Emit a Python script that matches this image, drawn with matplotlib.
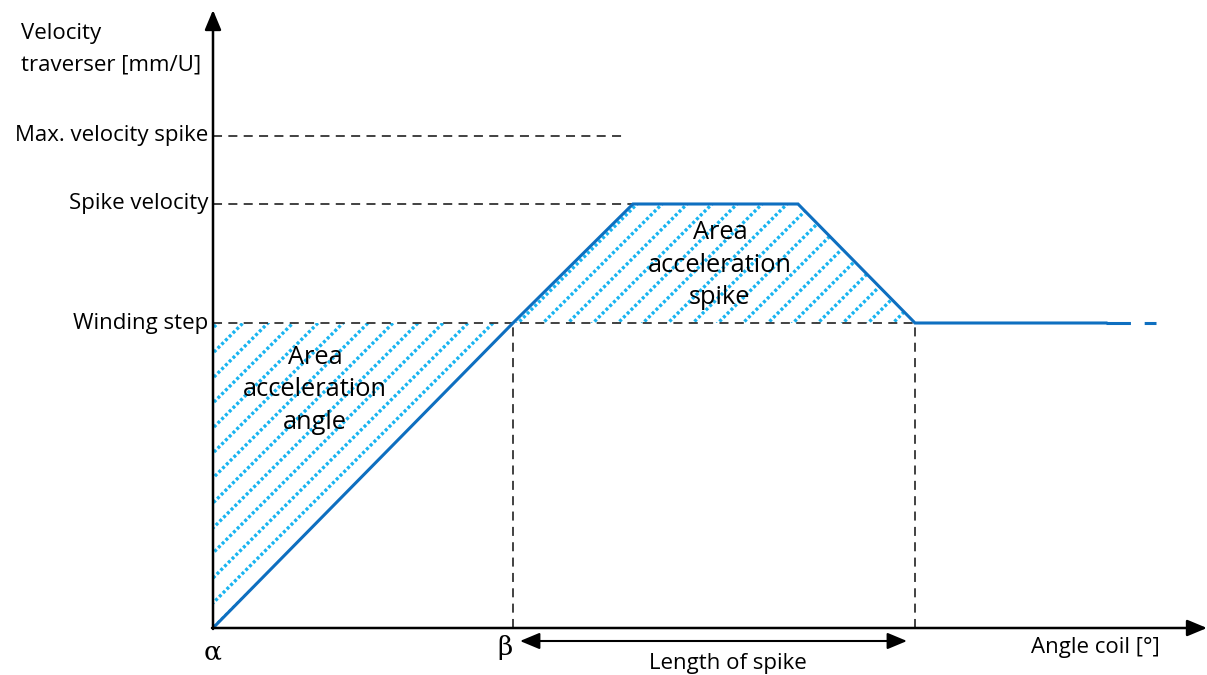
import numpy as np
import matplotlib
matplotlib.use("Agg")
import matplotlib.pyplot as plt
from matplotlib.patches import Polygon

plt.rcParams['font.family'] = ['Open Sans', 'DejaVu Sans']

# schematic values (angle units, velocity units)
angle_alpha = 0
angle_beta = 300
angle_spike_top_start = 420
angle_spike_top_end = 585
angle_spike_end = 702
angle_solid_end = 893
angle_dashed_end = 943
angle_axis_end = 994

v_winding_step = 305
v_spike = 424
v_max_spike = 492
v_axis_top = 618
v_max_line_end = 412

level_labels = ["Winding step", "Spike velocity", "Max. velocity spike"]
level_values = [v_winding_step, v_spike, v_max_spike]

profile_x = [angle_alpha, angle_beta, angle_spike_top_start, angle_spike_top_end,
             angle_spike_end, angle_solid_end]
profile_y = [0, v_winding_step, v_spike, v_spike, v_winding_step, v_winding_step]

BLUE = '#0E6FC0'
HATCH = '#19B4F0'
DARK = '#333333'
FS = 16
FS_AREA = 18.3

fig = plt.figure(figsize=(12.07, 6.75), dpi=100)
ax = fig.add_axes([0, 0, 1, 1])
ax.set_xlim(-213, 994)
ax.set_ylim(-47, 628)
ax.axis('off')


def hatch_region(verts):
    poly = Polygon(verts, closed=True, facecolor='none', edgecolor='none')
    ax.add_patch(poly)
    for c in np.arange(-1000, 1000, 25):
        xs = np.array([-300, 1100])
        ln, = ax.plot(xs, xs + c, color=HATCH, lw=2.4,
                      linestyle=(0, (0.9, 0.7)), zorder=2)
        ln.set_clip_path(poly)


hatch_region([(angle_alpha, 0), (angle_alpha, v_winding_step), (angle_beta, v_winding_step)])
hatch_region([(angle_beta, v_winding_step), (angle_spike_top_start, v_spike),
              (angle_spike_top_end, v_spike), (angle_spike_end, v_winding_step)])

dash = (0, (5, 3.5))
ax.plot([angle_alpha, v_max_line_end], [v_max_spike] * 2, color=DARK, lw=1.3, linestyle=dash, zorder=3)
ax.plot([angle_alpha, angle_spike_top_start], [v_spike] * 2, color=DARK, lw=1.3, linestyle=dash, zorder=3)
ax.plot([angle_alpha, angle_spike_end], [v_winding_step] * 2, color=DARK, lw=1.3, linestyle=dash, zorder=3)
ax.plot([angle_beta] * 2, [0, v_winding_step], color=DARK, lw=1.3, linestyle=dash, zorder=3)
ax.plot([angle_spike_end] * 2, [0, v_winding_step], color=DARK, lw=1.3, linestyle=dash, zorder=3)

# velocity profile
ax.plot(profile_x, profile_y, color=BLUE, lw=2.2, zorder=4, solid_joinstyle='miter')
ax.plot([angle_solid_end, angle_dashed_end], [v_winding_step] * 2, color=BLUE, lw=2.2,
        linestyle=(0, (8, 4.5)), zorder=4)

# axes with arrows
ax.annotate('', xy=(angle_axis_end, 0), xytext=(angle_alpha - 1, 0),
            arrowprops=dict(arrowstyle='-|>,head_length=1.2,head_width=0.5', color='black',
                            lw=1.8, shrinkA=0, shrinkB=0), zorder=5)
ax.annotate('', xy=(angle_alpha, v_axis_top), xytext=(angle_alpha, -1),
            arrowprops=dict(arrowstyle='-|>,head_length=1.2,head_width=0.5', color='black',
                            lw=1.8, shrinkA=0, shrinkB=0), zorder=5)

# length of spike arrow
ax.annotate('', xy=(angle_beta + 7, -13), xytext=(angle_spike_end - 8, -13),
            arrowprops=dict(arrowstyle='<|-|>,head_length=1.2,head_width=0.5', color='black',
                            lw=1.5, shrinkA=0, shrinkB=0))
ax.text((angle_beta + angle_spike_end) / 2 + 14, -36, 'Length of spike', ha='center', va='center',
        fontsize=FS)

for lab, val in zip(level_labels, level_values):
    ax.text(-5, val, lab, ha='right', va='center', fontsize=FS)

ax.text(-192, 595, 'Velocity', ha='left', va='center', fontsize=FS)
ax.text(-192, 563, 'traverser [mm/U]', ha='left', va='center', fontsize=FS)

ax.text(102, 238, 'Area\nacceleration\nangle', ha='center', va='center', fontsize=FS_AREA,
        linespacing=1.42, zorder=6)
ax.text(507, 363, 'Area\nacceleration\nspike', ha='center', va='center', fontsize=FS_AREA,
        linespacing=1.42, zorder=6)

ax.text(angle_alpha, -24, 'α', ha='center', va='center', fontsize=19, family='DejaVu Serif')
ax.text(angle_beta - 8, -20, 'β', ha='center', va='center', fontsize=19, family='DejaVu Serif')
ax.text(882, -20, 'Angle coil [°]', ha='center', va='center', fontsize=FS)

fig.savefig('out.png', dpi=100)
